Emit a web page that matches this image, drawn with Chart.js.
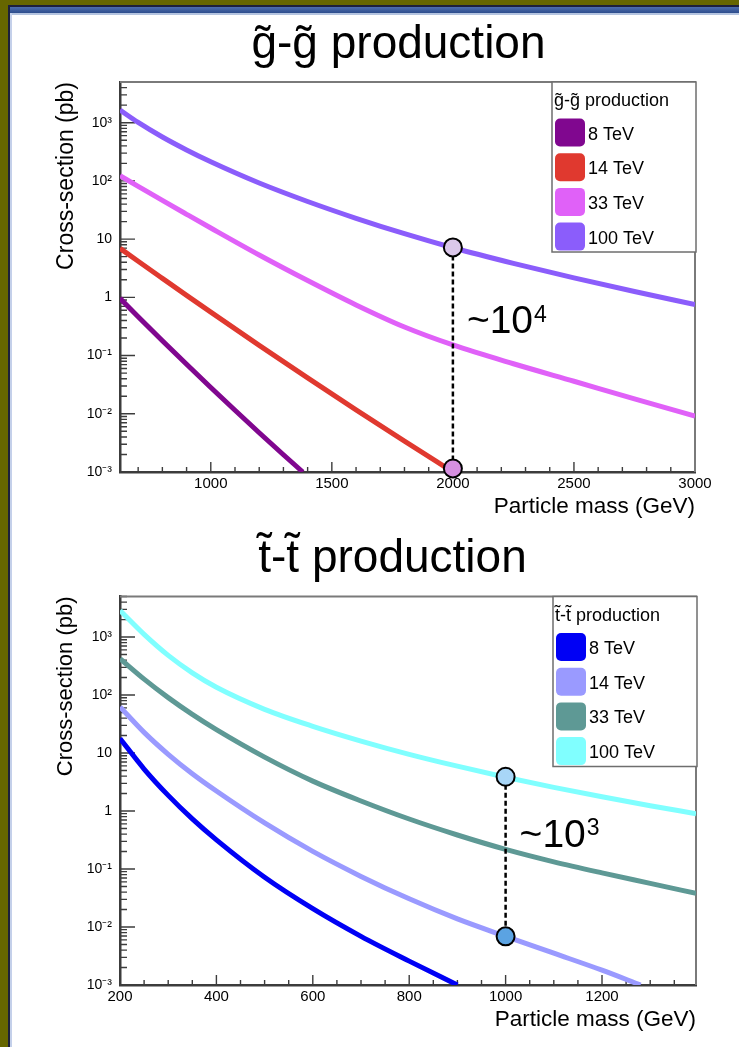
<!DOCTYPE html>
<html>
<head>
<meta charset="utf-8">
<script src="https://cdn.jsdelivr.net/npm/chart.js@4.4.1/dist/chart.umd.min.js"></script>
<style>
  html, body { margin: 0; padding: 0; background: #fff; overflow: hidden; width: 739px; height: 1047px; position: relative; }
  .deco { position: absolute; }
  canvas { position: absolute; }
</style>
</head>
<body>
<div class="deco" style="left:0;top:0;width:739px;height:5px;background:#666600"></div>
<div class="deco" style="left:0;top:0;width:8px;height:1047px;background:#666600"></div>
<div class="deco" style="left:8px;top:5px;width:731px;height:2px;background:#1c1f3c"></div>
<div class="deco" style="left:8px;top:5px;width:2px;height:1042px;background:#1c1f3c"></div>
<div class="deco" style="left:10px;top:7px;width:729px;height:6px;background:linear-gradient(#4d6eae,#2d4d8d)"></div>
<div class="deco" style="left:10px;top:13px;width:729px;height:2px;background:#b4c4e0"></div>
<div class="deco" style="left:10px;top:13px;width:2px;height:1034px;background:#c4d0ea"></div>

<canvas id="gluino" width="777" height="520" style="left:10px;top:0px;width:777px;height:520px"></canvas>
<canvas id="stop" width="765" height="512" style="left:10px;top:521px;width:765px;height:512px"></canvas>

<script>
// ---------------- data ----------------
const energies = ['8 TeV', '14 TeV', '33 TeV', '100 TeV'];
const yTickValues = [1e-3, 1e-2, 1e-1, 1, 10, 100, 1000];
const yTickLabels = ['10\u207B\u00B3', '10\u207B\u00B2', '10\u207B\u00B9', '1', '10', '10\u00B2', '10\u00B3'];

// gluino pair production (top panel), cross-section in pb vs mass in GeV
const gluinoMass8   = [625, 700, 800, 900, 1000, 1100, 1200, 1300, 1380];
const gluinoXsec8   = [0.961, 0.466, 0.180, 0.0709, 0.0283, 0.0115, 0.00473, 0.00198, 0.001];
const gluinoMass14  = [625, 700, 800, 900, 1000, 1200, 1400, 1600, 1800, 2000];
const gluinoXsec14  = [6.95, 4.17, 2.12, 1.08, 0.557, 0.150, 0.0414, 0.0117, 0.0034, 0.001];
const gluinoMass33  = [625, 700, 800, 900, 1000, 1200, 1400, 1600, 1800, 2000, 2250, 2500, 2750, 3000];
const gluinoXsec33  = [123, 80.8, 46.2, 26.7, 15.5, 5.33, 1.94, 0.74, 0.309, 0.152, 0.0723, 0.0362, 0.0181, 0.0091];
const gluinoMass100 = [625, 700, 800, 900, 1000, 1200, 1400, 1600, 1800, 2000, 2250, 2500, 2750, 3000];
const gluinoXsec100 = [1650, 1010, 567, 340, 213, 92, 44.3, 22.8, 12.4, 7.12, 3.84, 2.16, 1.26, 0.75];
const gluinoRatioMass = [2000, 2000];
const gluinoRatioXsec = [7.2, 0.00115];
const gluinoXTicks = [1000, 1500, 2000, 2500, 3000];
const gluinoRatioText = ['~10', '4'];

// stop pair production (bottom panel)
const stopMass8   = [200, 250, 300, 350, 400, 500, 600, 700, 800, 900];
const stopXsec8   = [17.8, 5.30, 1.86, 0.731, 0.318, 0.072, 0.0207, 0.0069, 0.00258, 0.001];
const stopMass14  = [200, 250, 300, 350, 400, 500, 600, 700, 800, 900, 1000, 1100, 1200, 1280];
const stopXsec14  = [62.4, 22.7, 9.5, 4.39, 2.21, 0.622, 0.201, 0.0746, 0.0306, 0.0138, 0.0069, 0.00353, 0.0018, 0.001];
const stopMass33  = [200, 250, 300, 350, 400, 500, 600, 700, 800, 900, 1000, 1100, 1200, 1300, 1395];
const stopXsec33  = [423, 188, 90.2, 46.4, 25.3, 8.5, 3.28, 1.49, 0.728, 0.386, 0.218, 0.133, 0.0857, 0.0565, 0.038];
const stopMass100 = [200, 250, 300, 350, 400, 500, 600, 700, 800, 900, 1000, 1100, 1200, 1300, 1395];
const stopXsec100 = [2870, 1110, 482, 241, 136, 56.7, 28.9, 16.1, 9.5, 5.93, 3.83, 2.56, 1.76, 1.23, 0.90];
const stopRatioMass = [1000, 1000];
const stopRatioXsec = [3.9, 0.0069];
const stopXTicks = [200, 400, 600, 800, 1000, 1200];
const stopRatioText = ['~10', '3'];

// ---------------- rendering ----------------
const FONT = '"Liberation Sans", Arial, Helvetica, sans-serif';
Chart.defaults.font.family = FONT;
Chart.defaults.color = '#000';

function logMarks(min, max) {
  const out = [];
  for (let e = Math.floor(Math.log10(min)); e <= Math.ceil(Math.log10(max)); e++) {
    for (let k = 1; k < 10; k++) {
      const v = k * Math.pow(10, e);
      if (v >= min * 0.999 && v <= max * 1.001) out.push(v);
    }
  }
  return out;
}
function isDecade(v) {
  const l = Math.log10(v);
  return Math.abs(l - Math.round(l)) < 1e-9;
}

function makeOverlay(p) {
  return {
    id: 'overlay',
    beforeDatasetsDraw(chart) {
      const { ctx, chartArea: a, scales: { x, y } } = chart;
      ctx.save();
      ctx.strokeStyle = '#3c3c3c';
      ctx.lineWidth = 1.4;
      ctx.beginPath();
      logMarks(p.yMin, p.yMax).forEach(v => {
        const py = y.getPixelForValue(v);
        const len = isDecade(v) ? 15 : 7;
        ctx.moveTo(a.left, py);
        ctx.lineTo(a.left + len, py);
      });
      for (let v = p.xMinorStart; v <= p.xMax + 1e-6; v += p.xMinorStep) {
        const px = x.getPixelForValue(v);
        const len = (v % p.xMajorStep === 0) ? 10 : 5;
        ctx.moveTo(px, a.bottom);
        ctx.lineTo(px, a.bottom - len);
      }
      ctx.stroke();
      ctx.strokeStyle = '#7a7a7a';
      ctx.lineWidth = 2;
      ctx.beginPath();
      ctx.moveTo(a.left, a.top);
      ctx.lineTo(a.right, a.top);
      ctx.lineTo(a.right, a.bottom);
      ctx.stroke();
      ctx.restore();
    },
    afterDatasetsDraw(chart) {
      const { ctx, chartArea: a, scales: { x, y } } = chart;
      ctx.save();
      const right = a.right + 1, width = 144, height = 170;
      const left = right - width, top = a.top;
      ctx.fillStyle = '#fff';
      ctx.fillRect(left, top, width, height);
      ctx.strokeStyle = '#6e6e6e';
      ctx.lineWidth = 1.5;
      ctx.strokeRect(left, top, width, height);
      ctx.fillStyle = '#000';
      ctx.textAlign = 'left';
      ctx.textBaseline = 'alphabetic';
      ctx.font = '18px ' + FONT;
      ctx.fillText(p.legendTitle, left + 2, top + 24);
      chart.data.datasets.filter(d => d.inLegend).forEach((d, i) => {
        const cy = top + 50.5 + i * 34.7;
        ctx.fillStyle = d.borderColor;
        ctx.beginPath();
        if (ctx.roundRect) ctx.roundRect(left + 3, cy - 14, 30, 28, 5); else ctx.rect(left + 3, cy - 14, 30, 28);
        ctx.fill();
        ctx.fillStyle = '#000';
        ctx.fillText(d.label, left + 36, cy + 7);
      });
      const tx = x.getPixelForValue(p.ratioMass[0]) + 14;
      const ty = y.getPixelForValue(p.ratioTextAt);
      ctx.font = '39px ' + FONT;
      ctx.fillText(p.ratioText[0], tx, ty);
      const w = ctx.measureText(p.ratioText[0]).width;
      ctx.font = '23px ' + FONT;
      ctx.fillText(p.ratioText[1], tx + w + 1, ty - 11.6);
      ctx.restore();
    }
  };
}

function buildChart(id, p) {
  const datasets = p.series.map((s, i) => ({
    label: energies[i],
    inLegend: true,
    data: s.mass.map((m, j) => ({ x: m, y: s.xsec[j] })),
    borderColor: s.color,
    backgroundColor: s.color,
    borderWidth: 5,
    pointRadius: 0,
    pointHoverRadius: 0,
    fill: false,
    cubicInterpolationMode: 'monotone',
    xAxisID: 'x',
    yAxisID: 'y',
    order: 1
  }));
  datasets.push({
    label: 'ratio',
    inLegend: false,
    data: p.ratioMass.map((m, j) => ({ x: m, y: p.ratioXsec[j] })),
    borderColor: '#000',
    borderWidth: 2.5,
    borderDash: [5, 3],
    pointRadius: 9,
    pointHoverRadius: 9,
    pointBorderWidth: 2,
    pointBorderColor: '#000',
    pointBackgroundColor: p.ratioFill,
    tension: 0,
    clip: false,
    xAxisID: 'x',
    yAxisID: 'y',
    order: -1
  });
  return new Chart(document.getElementById(id), {
    type: 'line',
    data: { datasets },
    options: {
      responsive: false,
      animation: false,
      events: [],
      layout: { padding: 0 },
      plugins: {
        legend: { display: false },
        tooltip: { enabled: false },
        title: {
          display: true,
          text: p.title,
          color: '#000',
          font: { size: 46, weight: 'normal', family: FONT },
          padding: { top: p.titleTop, bottom: p.titleBottom }
        }
      },
      scales: {
        x: {
          type: 'linear',
          position: 'bottom',
          min: p.xMin,
          max: p.xMax,
          afterBuildTicks: s => { s.ticks = p.xTicks.map(v => ({ value: v })); },
          afterFit: s => { s.height = 48; },
          ticks: { autoSkip: false, maxRotation: 0, padding: 3, color: '#000', font: { size: 15 }, callback: v => String(v) },
          grid: { display: false, drawTicks: false },
          border: { display: true, color: '#3c3c3c', width: 2.5 },
          title: { display: true, text: 'Particle mass (GeV)', align: 'end', color: '#000', font: { size: 22.5 }, padding: 0 }
        },
        y: {
          type: 'logarithmic',
          position: 'left',
          min: p.yMin,
          max: p.yMax,
          afterBuildTicks: s => { s.ticks = yTickValues.map(v => ({ value: v })); },
          afterFit: s => { s.width = 110; },
          ticks: { autoSkip: false, padding: 8, color: '#000', font: { size: 14 }, callback: (v, i) => yTickLabels[i] },
          grid: { display: false, drawTicks: false },
          border: { display: true, color: '#3c3c3c', width: 2.5 },
          title: { display: true, text: 'Cross-section (pb)', align: 'end', color: '#000', font: { size: p.yTitleSize }, padding: { top: 42.7, bottom: 0 } }
        },
        ySpacer: {
          type: 'linear',
          position: 'right',
          display: true,
          afterFit: s => { s.width = p.rightSpace; },
          ticks: { display: false },
          grid: { display: false, drawTicks: false },
          border: { display: false }
        }
      }
    },
    plugins: [makeOverlay(p)]
  });
}

buildChart('gluino', {
  title: 'g\u0303-g\u0303 production',
  legendTitle: 'g\u0303-g\u0303 production',
  titleTop: 18.2, titleBottom: 8.6,
  xMin: 625, xMax: 3000, xTicks: gluinoXTicks,
  xMinorStart: 700, xMinorStep: 100, xMajorStep: 500,
  yMin: 1e-3, yMax: 5000, yTitleSize: 23,
  rightSpace: 92,
  series: [
    { mass: gluinoMass8, xsec: gluinoXsec8, color: '#80078f' },
    { mass: gluinoMass14, xsec: gluinoXsec14, color: '#e0392f' },
    { mass: gluinoMass33, xsec: gluinoXsec33, color: '#e061f8' },
    { mass: gluinoMass100, xsec: gluinoXsec100, color: '#8b5dfb' }
  ],
  ratioMass: gluinoRatioMass, ratioXsec: gluinoRatioXsec,
  ratioFill: ['#dbc7ea', '#d68fe0'],
  ratioText: gluinoRatioText, ratioTextAt: 0.24
});

buildChart('stop', {
  title: 't\u0303-t\u0303 production',
  legendTitle: 't\u0303-t\u0303 production',
  titleTop: 10.5, titleBottom: 9.8,
  xMin: 200, xMax: 1395, xTicks: stopXTicks,
  xMinorStart: 200, xMinorStep: 50, xMajorStep: 200,
  yMin: 1e-3, yMax: 5000, yTitleSize: 22,
  rightSpace: 79,
  series: [
    { mass: stopMass8, xsec: stopXsec8, color: '#0000f5' },
    { mass: stopMass14, xsec: stopXsec14, color: '#9a9aff' },
    { mass: stopMass33, xsec: stopXsec33, color: '#5e9995' },
    { mass: stopMass100, xsec: stopXsec100, color: '#80ffff' }
  ],
  ratioMass: stopRatioMass, ratioXsec: stopRatioXsec,
  ratioFill: ['#a8d6f7', '#5ba3e2'],
  ratioText: stopRatioText, ratioTextAt: 0.24
});
</script>
</body>
</html>
